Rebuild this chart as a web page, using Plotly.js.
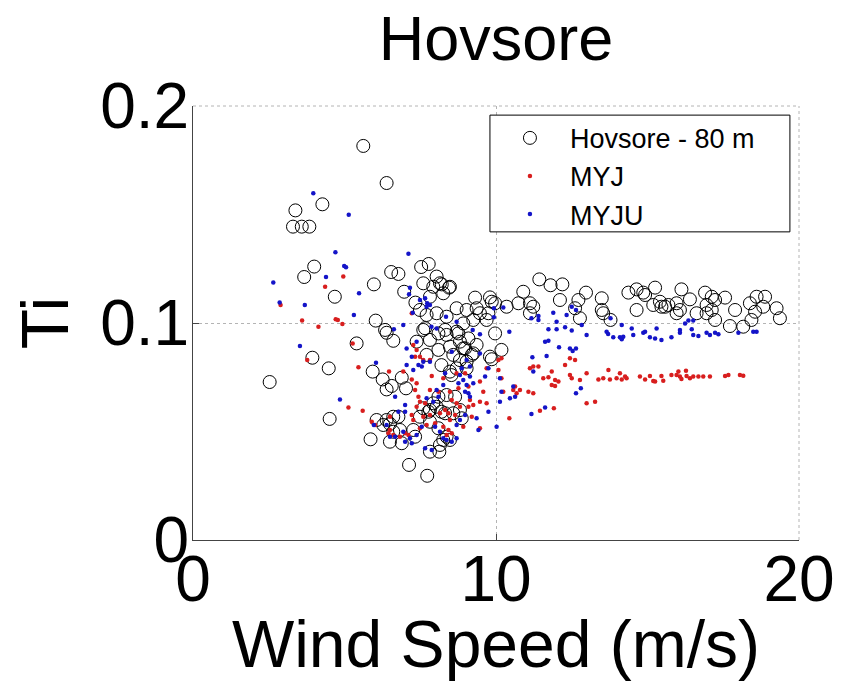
<!DOCTYPE html>
<html>
<head>
<meta charset="utf-8">
<script src="https://cdn.plot.ly/plotly-3.0.1.min.js"></script>
<style>html,body{margin:0;padding:0;background:#fff;}#chart{width:844px;height:681px;}</style>
</head>
<body>
<div id="chart"></div>
<script>
// Measured wind speed (m/s) vs turbulence intensity, Hovsore 80 m
const hovsore = [
[2.53,0.0728],[3.30,0.1444],[3.38,0.1519],[3.59,0.1444],[3.84,0.1444],[3.67,0.1212],[3.94,0.0840],[4.00,0.1260],
[4.27,0.1547],[4.48,0.0791],[4.51,0.0558],[4.68,0.1121],[5.40,0.0906],[5.62,0.1816],[5.86,0.0464],[5.93,0.0776],
[5.97,0.1178],[6.03,0.1011],[6.06,0.0553],[6.26,0.0740],[6.28,0.0530],[6.34,0.0968],[6.39,0.1645],[6.39,0.0955],
[6.39,0.0694],[6.39,0.0553],[6.50,0.0535],[6.50,0.0453],[6.54,0.1235],[6.56,0.0710],[6.61,0.0918],[6.61,0.0568],
[6.61,0.0499],[6.78,0.1226],[6.78,0.0568],[6.83,0.0507],[6.89,0.0748],[6.89,0.0446],[6.97,0.1144],[7.03,0.0699],
[7.13,0.0346],[7.27,0.0507],[7.33,0.0476],[7.34,0.1094],[7.38,0.0914],[7.49,0.1060],[7.49,0.0568],[7.53,0.1258],
[7.60,0.1183],[7.60,0.0968],[7.60,0.0607],[7.66,0.0976],[7.71,0.1037],[7.71,0.0853],[7.73,0.0296],[7.77,0.0591],
[7.78,0.1272],[7.82,0.1121],[7.82,0.0922],[7.82,0.0599],[7.82,0.0545],[7.82,0.0407],[7.93,0.1167],[7.93,0.0630],
[8.04,0.1214],[8.04,0.1045],[8.04,0.0614],[8.10,0.0952],[8.10,0.0876],[8.10,0.0660],[8.10,0.0515],[8.13,0.0407],
[8.15,0.1183],[8.15,0.0438],[8.20,0.0806],[8.20,0.0591],[8.21,0.1178],[8.26,0.1137],[8.26,0.0461],[8.32,0.0968],
[8.32,0.0584],[8.37,0.1029],[8.37,0.0945],[8.37,0.0668],[8.37,0.0476],[8.45,0.1163],[8.48,0.1167],[8.48,0.0891],
[8.48,0.0776],[8.48,0.0461],[8.53,0.0760],[8.59,0.0853],[8.59,0.0584],[8.65,0.0660],[8.70,0.1068],[8.70,0.0960],
[8.70,0.0791],[8.76,0.0952],[8.81,0.0914],[8.81,0.0829],[8.81,0.0599],[8.87,0.0561],[8.92,0.0998],[8.92,0.0883],
[8.98,0.0883],[9.03,0.1060],[9.03,0.0822],[9.03,0.0791],[9.09,0.0929],[9.20,0.0853],[9.25,0.1014],[9.25,0.0860],
[9.31,0.1117],[9.36,0.1068],[9.36,0.0899],[9.47,0.1045],[9.69,0.1014],[9.75,0.1045],[9.80,0.1118],[9.80,0.0845],
[9.86,0.1098],[9.86,0.0833],[9.97,0.1091],[9.97,0.0952],[10.18,0.0876],[10.35,0.1075],[10.74,0.1091],[10.90,0.1144],
[11.12,0.1091],[11.23,0.1075],[11.12,0.1045],[11.43,0.1201],[11.80,0.1174],[12.19,0.1178],[12.11,0.1106],[12.61,0.1068],
[12.72,0.1106],[12.97,0.1140],[12.77,0.1022],[13.49,0.1114],[13.49,0.1060],[13.54,0.1045],[13.78,0.1014],[14.37,0.1140],
[14.64,0.1155],[14.86,0.1140],[14.92,0.1129],[15.25,0.1163],[14.64,0.1060],[15.19,0.1083],[15.41,0.1098],[15.46,0.1075],
[15.58,0.1075],[15.69,0.1083],[15.96,0.1091],[15.96,0.1045],[16.07,0.1060],[16.12,0.1155],[16.40,0.1109],[16.62,0.1045],
[16.90,0.1140],[16.95,0.1083],[16.95,0.1045],[17.12,0.1121],[17.12,0.1060],[17.23,0.1106],[17.23,0.1014],[17.56,0.1117],
[17.72,0.0986],[17.89,0.1060],[18.16,0.0983],[18.38,0.1091],[18.43,0.1014],[18.55,0.1052],[18.60,0.1121],[18.82,0.1075],
[18.88,0.1121],[19.26,0.1068],[19.37,0.1022]
];
const myj = [
[2.89,0.1083],[3.60,0.1011],[3.77,0.0829],[4.14,0.0983],[4.36,0.1167],[4.71,0.1017],[4.78,0.1014],[4.93,0.0995],
[4.96,0.1214],[5.13,0.0611],[5.27,0.0906],[5.46,0.0796],[5.60,0.0596],[5.90,0.0545],[6.01,0.0530],[6.45,0.0492],
[6.47,0.0776],[6.50,0.0568],[6.50,0.0507],[6.61,0.0484],[6.83,0.0476],[6.94,0.0776],[7.00,0.0492],[7.11,0.0484],
[7.22,0.1045],[7.22,0.0740],[7.22,0.0576],[7.27,0.0899],[7.27,0.0553],[7.33,0.0845],[7.33,0.0691],[7.38,0.0876],
[7.38,0.0722],[7.38,0.0614],[7.44,0.0660],[7.49,0.0845],[7.49,0.0637],[7.49,0.0515],[7.60,0.0829],[7.60,0.0568],
[7.66,0.0630],[7.71,0.0530],[7.82,0.0829],[7.82,0.0691],[7.82,0.0576],[7.88,0.0756],[7.99,0.0538],[8.10,0.0683],
[8.15,0.0584],[8.26,0.0745],[8.26,0.0522],[8.32,0.0599],[8.37,0.0484],[8.43,0.0584],[8.43,0.0507],[8.48,0.0683],
[8.48,0.0553],[8.54,0.0645],[8.54,0.0492],[8.65,0.0576],[8.70,0.0768],[8.70,0.0630],[8.76,0.0699],[8.81,0.0614],
[8.92,0.0522],[8.98,0.0768],[9.09,0.0707],[9.09,0.0614],[9.14,0.0645],[9.20,0.0568],[9.25,0.0622],[9.47,0.0730],
[9.47,0.0637],[9.47,0.0515],[9.58,0.0683],[9.69,0.0791],[9.69,0.0630],[10.08,0.0829],[10.18,0.0837],[10.08,0.0783],
[10.18,0.0745],[10.24,0.0683],[10.44,0.0561],[10.57,0.0691],[10.63,0.0707],[10.68,0.0676],[10.79,0.0691],[11.07,0.0683],
[11.12,0.0791],[11.23,0.0799],[11.23,0.0676],[11.40,0.0799],[11.45,0.0596],[11.56,0.0745],[11.73,0.0750],[11.84,0.0714],
[11.84,0.0776],[11.91,0.0607],[11.95,0.0710],[11.95,0.0737],[12.06,0.0730],[12.28,0.0806],[12.44,0.0837],[12.44,0.0760],
[12.50,0.0745],[12.61,0.0829],[12.77,0.0737],[12.99,0.0768],[12.99,0.0630],[13.27,0.0637],[13.38,0.0740],[13.54,0.0745],
[13.71,0.0783],[13.76,0.0740],[13.98,0.0745],[14.09,0.0768],[14.15,0.0740],[14.26,0.0753],[14.31,0.0745],[14.75,0.0753],
[14.92,0.0740],[15.08,0.0756],[15.19,0.0733],[15.25,0.0730],[15.46,0.0756],[15.52,0.0734],[15.79,0.0760],[15.96,0.0760],
[16.02,0.0776],[16.07,0.0753],[16.12,0.0742],[16.27,0.0780],[16.29,0.0756],[16.40,0.0745],[16.51,0.0753],[16.68,0.0753],
[16.84,0.0753],[17.06,0.0753],[17.56,0.0756],[17.67,0.0760],[18.05,0.0760],[18.16,0.0757]
];
const myju = [
[2.65,0.1187],[2.86,0.1095],[3.53,0.0894],[3.69,0.1083],[3.97,0.1598],[4.39,0.1212],[4.70,0.1326],[4.85,0.0648],
[4.99,0.1263],[5.05,0.1257],[5.14,0.1499],[5.31,0.1037],[5.48,0.1137],[5.97,0.0530],[6.04,0.0817],[6.39,0.0530],
[6.50,0.0476],[6.63,0.0971],[6.67,0.0660],[6.67,0.0476],[6.78,0.0591],[6.94,0.0991],[6.94,0.0499],[7.00,0.0622],
[7.00,0.0591],[7.00,0.0453],[7.05,0.0883],[7.05,0.0806],[7.11,0.1319],[7.13,0.1132],[7.16,0.1163],[7.16,0.0469],
[7.22,0.0845],[7.22,0.0446],[7.25,0.1047],[7.27,0.0783],[7.38,0.0914],[7.38,0.0484],[7.44,0.0806],[7.49,0.1106],
[7.55,0.0799],[7.55,0.0522],[7.60,0.0822],[7.66,0.1114],[7.66,0.0423],[7.71,0.1075],[7.71,0.0653],[7.73,0.1091],
[7.82,0.1083],[7.82,0.0822],[7.87,0.0983],[7.88,0.0415],[7.93,0.0637],[7.99,0.0522],[8.04,0.0975],[8.04,0.0691],
[8.10,0.0660],[8.15,0.0499],[8.26,0.0714],[8.26,0.0469],[8.32,0.0768],[8.35,0.1029],[8.37,0.0461],[8.54,0.0868],
[8.54,0.0453],[8.70,0.1006],[8.70,0.0530],[8.70,0.0469],[8.76,0.0722],[8.81,0.0760],[8.81,0.0553],[8.87,0.0791],
[8.92,0.0737],[8.98,0.0683],[8.98,0.0576],[9.03,0.0829],[9.03,0.0714],[9.09,0.0676],[9.14,0.0799],[9.14,0.0753],
[9.14,0.0660],[9.23,0.0968],[9.25,0.0722],[9.36,0.0561],[9.42,0.0507],[9.47,0.0948],[9.47,0.0860],[9.64,0.0753],
[9.75,0.0791],[9.75,0.0591],[9.93,0.1068],[9.93,0.1026],[10.02,0.0522],[10.13,0.0745],[10.13,0.0637],[10.18,0.0683],
[10.24,0.1072],[10.44,0.0960],[10.46,0.0653],[10.57,0.0707],[10.63,0.0660],[11.17,0.1022],[11.17,0.0581],[11.20,0.0842],
[11.23,0.0776],[11.40,0.1014],[11.40,0.1032],[11.62,0.0914],[11.62,0.0611],[11.67,0.0848],[11.73,0.0971],[11.73,0.0918],
[11.89,0.1047],[12.00,0.1006],[12.00,0.0971],[12.08,0.0888],[12.28,0.0980],[12.33,0.1037],[12.44,0.0883],[12.50,0.1075],
[12.50,0.0965],[12.53,0.0871],[12.64,0.1060],[12.64,0.0883],[12.64,0.0676],[12.80,0.0699],[12.83,0.0991],[12.99,0.0945],
[13.65,0.0960],[13.70,0.0949],[13.78,0.1022],[13.87,0.0934],[14.09,0.0934],[14.15,0.0925],[14.15,0.0991],[14.20,0.0937],
[14.48,0.0975],[14.53,0.0945],[14.86,0.0955],[14.92,0.0960],[15.08,0.0934],[15.25,0.0929],[15.30,0.0975],[15.46,0.0922],
[15.79,0.0934],[16.07,0.0968],[16.07,0.0955],[16.24,0.0998],[16.35,0.1011],[16.51,0.1011],[16.46,0.0971],[16.51,0.0945],
[16.68,0.0940],[16.95,0.0955],[17.06,0.0945],[17.23,0.0955],[17.34,0.0948],[18.00,0.0955],[18.49,0.0960],[18.60,0.0960]
];
const seriesNames = ['Hovsore - 80 m', 'MYJ', 'MYJU'];
const xTicks = [0, 10, 20];
const xTickText = ['0', '10', '20'];
const yTicks = [0, 0.1, 0.2];
const yTickText = ['0', '0.1', '0.2'];

const FONT = 'Liberation Sans, Arial, Helvetica, sans-serif';
const xs = a => a.map(p => p[0]);
const ys = a => a.map(p => p[1]);

const traces = [
  {x: xs(hovsore), y: ys(hovsore), name: seriesNames[0], type: 'scatter', mode: 'markers',
   marker: {symbol: 'circle-open', size: 13, color: '#000', line: {width: 1, color: '#000'}}},
  {x: xs(myj), y: ys(myj), name: seriesNames[1], type: 'scatter', mode: 'markers',
   marker: {symbol: 'circle', size: 4.5, color: '#d81e1e'}},
  {x: xs(myju), y: ys(myju), name: seriesNames[2], type: 'scatter', mode: 'markers',
   marker: {symbol: 'circle', size: 4.5, color: '#1414c8'}}
];

const layout = {
  width: 844, height: 681,
  paper_bgcolor: '#fff', plot_bgcolor: '#fff',
  margin: {l: 193, r: 45, t: 106, b: 141},
  font: {family: FONT, color: '#000'},
  title: {text: 'Hovsore', font: {family: FONT, size: 63, color: '#000'},
          xref: 'paper', x: 0.5, xanchor: 'center', yref: 'container', y: 0.945, yanchor: 'middle'},
  xaxis: {range: [0, 20], tickvals: xTicks, ticktext: xTickText, ticks: 'inside', ticklen: 6,
          tickcolor: '#444', showline: true, linecolor: '#444', linewidth: 1, mirror: false,
          showgrid: true, gridcolor: '#b4b4b4', griddash: 'dot', gridwidth: 1, zeroline: false,
          tickfont: {family: FONT, size: 64, color: '#000'}, ticklabelstandoff: -17,
          title: {text: 'Wind Speed (m/s)', font: {family: FONT, size: 66, color: '#000'}, standoff: 0},
          automargin: false},
  yaxis: {range: [0, 0.2], tickvals: yTicks, ticktext: yTickText, ticks: 'inside', ticklen: 6,
          tickcolor: '#444', showline: true, linecolor: '#444', linewidth: 1, mirror: false,
          showgrid: true, gridcolor: '#b4b4b4', griddash: 'dot', gridwidth: 1, zeroline: false,
          tickfont: {family: FONT, size: 64, color: '#000'}, ticklabelstandoff: -10,
          title: {text: 'Ti', font: {family: FONT, size: 66, color: '#000'}, standoff: 10},
          automargin: false},
  shapes: [
    {type: 'line', xref: 'paper', yref: 'paper', x0: 0, x1: 1, y0: 1, y1: 1,
     line: {color: '#b4b4b4', width: 1, dash: 'dot'}},
    {type: 'line', xref: 'paper', yref: 'paper', x0: 1, x1: 1, y0: 0, y1: 1,
     line: {color: '#b4b4b4', width: 1, dash: 'dot'}},
    {type: 'rect', xref: 'paper', yref: 'paper', x0: 0.490, x1: 0.985, y0: 0.710, y1: 0.979,
     layer: 'above', fillcolor: '#fff', line: {color: '#000', width: 1}}
  ],
  showlegend: true,
  legend: {x: 0.49, y: 0.982, xanchor: 'left', yanchor: 'top', bgcolor: 'rgba(0,0,0,0)',
           borderwidth: 0, font: {family: FONT, size: 27, color: '#000'},
           itemwidth: 70, tracegroupgap: 0}
};

Plotly.newPlot('chart', traces, layout, {displayModeBar: false, staticPlot: true});
</script>
</body>
</html>
